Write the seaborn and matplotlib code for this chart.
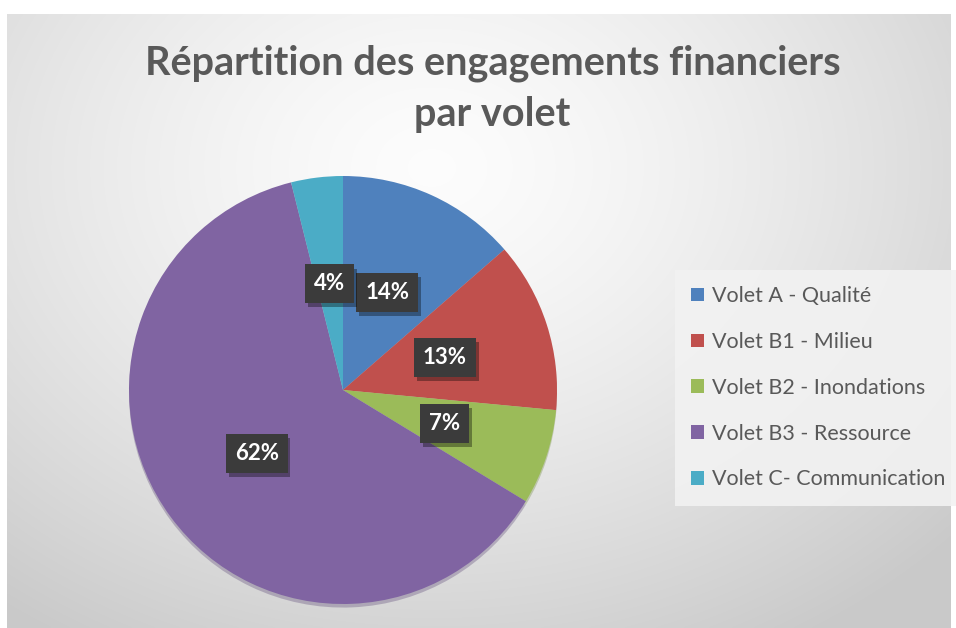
import numpy as np
import matplotlib.pyplot as plt
import seaborn as sns
from matplotlib import patheffects as pe

# values (shares of the total, in %)
categories = ["Volet A - Qualité", "Volet B1 - Milieu", "Volet B2 - Inondations",
              "Volet B3 - Ressource", "Volet C- Communication"]
shares = [13.6, 12.9, 7.2, 62.4, 3.9]
colors = ["#4F81BD", "#C0504D", "#9BBB59", "#8064A2", "#4BACC6"]
title = "Répartition des engagements financiers\npar volet"

sns.set_style("white")
plt.rcParams['font.family'] = ['Lato', 'DejaVu Sans']

W, H = 956, 628
fig = plt.figure(figsize=(W / 100, H / 100), dpi=100)
fig.patch.set_facecolor("white")

# radial gradient background panel
bg = fig.add_axes([7 / W, 0.0, (951 - 7) / W, (H - 14) / H], zorder=0)
yy, xx = np.mgrid[0:1:300j, 0:1:400j]
d = np.sqrt(((xx - 0.45) / 0.75) ** 2 + ((yy - 0.25) / 0.9) ** 2)
d = np.clip(d, 0, 1)
shade = 0.99 - 0.2 * d ** 1.4
bg.imshow(np.dstack([shade, shade, shade]), aspect="auto", extent=[0, 1, 0, 1],
          origin="upper", interpolation="bilinear")
bg.set_axis_off()

# pie
cx, cy, r = 343, 390, 214
ax = fig.add_axes([(cx - r) / W, (H - cy - r) / H, 2 * r / W, 2 * r / H], zorder=2)
wedges, texts, autotexts = ax.pie(
    shares, colors=colors, startangle=90, counterclock=False,
    autopct=lambda p: f"{p:.0f}%", pctdistance=0.5,
    wedgeprops=dict(linewidth=0),
    shadow=dict(ox=0.0, oy=-0.012, shade=0.25, alpha=0.35),
    textprops=dict(color="white", fontsize=16, fontweight="bold"))
ax.set_xlim(-1, 1)
ax.set_ylim(-1, 1)
ax.set_aspect("auto")
ax.set_axis_off()

for t in autotexts:
    t.set_bbox(dict(boxstyle="square,pad=0.4", facecolor="#3b3b3b", edgecolor="none"))
    t.get_bbox_patch().set_path_effects(
        [pe.SimplePatchShadow(offset=(2, -3), shadow_rgbFace="black", alpha=0.35), pe.Normal()])

fig.suptitle(title, x=0.515, y=(H - 45) / H, va="top", fontsize=28.5,
             fontweight="bold", color="#595959", linespacing=1.45)

leg = fig.legend(wedges, categories, loc="upper left",
                 bbox_to_anchor=(675 / W, (H - 270) / H),
                 frameon=True, fancybox=False, fontsize=15.5, labelcolor="#595959",
                 handlelength=0.6, handleheight=0.6, handletextpad=0.35,
                 labelspacing=1.2, borderpad=0.75, borderaxespad=0)
leg.get_frame().set_facecolor("#f2f2f2")
leg.get_frame().set_edgecolor("none")
leg.get_frame().set_alpha(0.9)

fig.savefig("out.png", dpi=100)
